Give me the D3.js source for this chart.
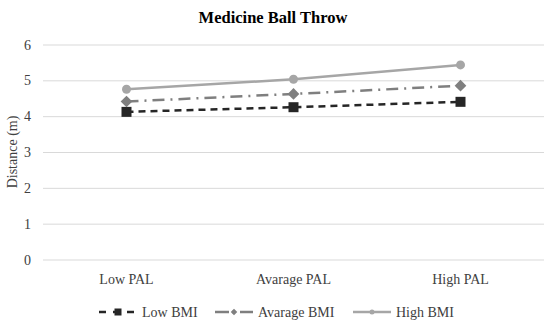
<!DOCTYPE html>
<html lang="en">
	<head>
		<meta charset="utf-8">
		<title>Medicine Ball Throw</title>
		<script type="text/javascript" src="https://cdn.jsdelivr.net/npm/d3@7"></script>
		<style type="text/css">
			body { margin: 0; background: #fff; }
			svg text { font-family: "Liberation Serif", "DejaVu Serif", serif; fill: #404040; }
			.grid line { stroke: #d9d9d9; stroke-width: 1; }
			.grid path { display: none; }
		</style>
	</head>
	<body>
		<script type="text/javascript">
			var w = 550;
			var h = 324;

			// data
			var categories = ["Low PAL", "Avarage PAL", "High PAL"];
			var lowBMI = [4.12, 4.25, 4.40];
			var avgBMI = [4.41, 4.62, 4.85];
			var highBMI = [4.75, 5.03, 5.43];
			var yTicks = [0, 1, 2, 3, 4, 5, 6];

			var series = [
				{ name: "Low BMI", values: lowBMI, color: "#262626", dash: "7,5", marker: "square" },
				{ name: "Avarage BMI", values: avgBMI, color: "#7f7f7f", dash: "12,6,2,6", marker: "diamond" },
				{ name: "High BMI", values: highBMI, color: "#a6a6a6", dash: null, marker: "circle" }
			];

			var svg = d3.select("body")
				.append("svg")
				.attr("width", w)
				.attr("height", h);

			var xScale = d3.scaleBand()
				.domain(categories)
				.range([43, 544]);

			var yScale = d3.scaleLinear()
				.domain([0, 6])
				.range([259.5, 44.5]);

			// title
			svg.append("text")
				.attr("x", 273)
				.attr("y", 23)
				.attr("text-anchor", "middle")
				.attr("font-size", "16.5px")
				.attr("font-weight", "bold")
				.style("fill", "#000")
				.text("Medicine Ball Throw");

			// gridlines
			svg.append("g")
				.attr("class", "grid")
				.attr("transform", "translate(43,0)")
				.call(d3.axisRight(yScale).tickValues(yTicks).tickSize(501).tickFormat(""));

			// y tick labels
			svg.selectAll(".ylab")
				.data(yTicks)
				.enter()
				.append("text")
				.attr("class", "ylab")
				.attr("x", 31)
				.attr("y", function(d) { return yScale(d) + 5; })
				.attr("text-anchor", "end")
				.attr("font-size", "14px")
				.text(function(d) { return d; });

			// y title
			svg.append("text")
				.attr("transform", "translate(17,152) rotate(-90)")
				.attr("text-anchor", "middle")
				.attr("font-size", "14px")
				.text("Distance (m)");

			// x labels
			svg.selectAll(".xlab")
				.data(categories)
				.enter()
				.append("text")
				.attr("class", "xlab")
				.attr("x", function(d) { return xScale(d) + xScale.bandwidth() / 2; })
				.attr("y", 284)
				.attr("text-anchor", "middle")
				.attr("font-size", "14px")
				.text(function(d) { return d; });

			function cx(i) { return xScale(categories[i]) + xScale.bandwidth() / 2; }

			function drawMarker(g, type, x, y, size, color) {
				if (type === "square") {
					g.append("rect")
						.attr("x", x - size / 2).attr("y", y - size / 2)
						.attr("width", size).attr("height", size)
						.attr("fill", color);
				} else if (type === "diamond") {
					var s = size * 0.65;
					g.append("path")
						.attr("d", "M" + x + "," + (y - s) + "L" + (x + s) + "," + y + "L" + x + "," + (y + s) + "L" + (x - s) + "," + y + "Z")
						.attr("fill", color);
				} else {
					g.append("circle")
						.attr("cx", x).attr("cy", y).attr("r", size / 2)
						.attr("fill", color);
				}
			}

			var line = d3.line()
				.x(function(d, i) { return cx(i); })
				.y(function(d) { return yScale(d); });

			series.forEach(function(s) {
				var g = svg.append("g");
				g.append("path")
					.datum(s.values)
					.attr("d", line)
					.attr("fill", "none")
					.attr("stroke", s.color)
					.attr("stroke-width", 2.5)
					.attr("stroke-dasharray", s.dash);
				s.values.forEach(function(v, i) {
					drawMarker(g, s.marker, cx(i), yScale(v), s.marker === "square" ? 10 : 9, s.color);
				});
			});

			// legend
			var legendX = [99, 215, 353];
			series.forEach(function(s, i) {
				var g = svg.append("g").attr("transform", "translate(" + legendX[i] + ",317)");
				g.append("line")
					.attr("x1", 0).attr("x2", 38)
					.attr("y1", -5).attr("y2", -5)
					.attr("stroke", s.color)
					.attr("stroke-width", 2.5)
					.attr("stroke-dasharray", i === 0 ? "7,7" : (i === 1 ? "14,3,2,6" : null));
				drawMarker(g, s.marker, 19, -5, i === 0 ? 7 : 5, s.color);
				g.append("text")
					.attr("x", 43)
					.attr("y", 0)
					.attr("font-size", "14px")
					.text(s.name);
			});
		</script>
	</body>
</html>
